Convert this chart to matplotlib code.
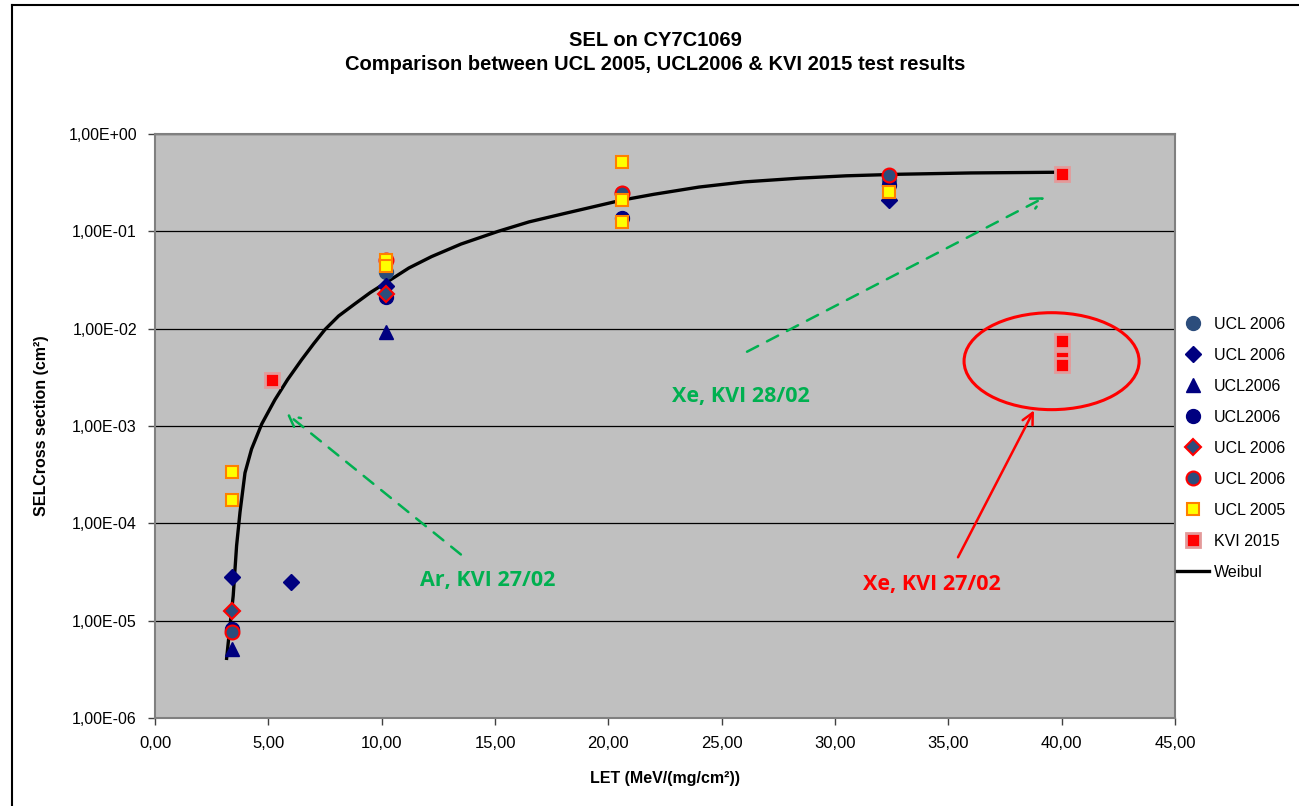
import matplotlib
matplotlib.use("Agg")
import matplotlib.pyplot as plt
from matplotlib.patches import Ellipse
from matplotlib.lines import Line2D

plt.rcParams['font.family'] = ['Liberation Sans', 'DejaVu Sans']

# ---- data (LET in MeV/(mg/cm2), cross-section in cm2) ----
s1_let = [3.4, 10.2, 20.6, 32.4]
s1_sig = [8.0e-6, 3.86e-2, 0.25, 0.34]

s2_let = [3.4, 6.0, 10.2, 32.4]
s2_sig = [2.8e-5, 2.5e-5, 2.75e-2, 0.21]

s3_let = [3.4, 10.2]
s3_sig = [5.1e-6, 9.2e-3]

s4_let = [3.4, 10.2, 20.6, 32.4]
s4_sig = [8.3e-6, 2.1e-2, 0.137, 0.30]

s5_let = [3.4, 10.2]
s5_sig = [1.26e-5, 2.26e-2]

s6_let = [3.4, 10.2, 20.6, 32.4]
s6_sig = [7.6e-6, 5.08e-2, 0.245, 0.38]

ucl2005_let = [3.4, 3.4, 10.2, 10.2, 20.6, 20.6, 20.6, 32.4]
ucl2005_sig = [3.4e-4, 1.74e-4, 5.08e-2, 4.4e-2, 0.52, 0.21, 0.126, 0.255]

kvi_let = [5.15, 40.0, 40.0, 40.0, 40.0]
kvi_sig = [3.0e-3, 0.39, 7.5e-3, 5.0e-3, 4.2e-3]

weibull_let = [3.16, 3.30, 3.45, 3.60, 3.75, 3.97, 4.26, 4.71, 5.29, 5.85, 6.47,
               7.0, 7.50, 8.1, 8.82, 9.5, 10.22, 11.2, 12.2, 13.5, 15.14,
               16.5, 18.09, 20.59, 22.0, 24.0, 26.0, 28.45, 30.5, 32.86, 36.0, 40.0]
weibull_sig = [4.1e-6, 8.5e-6, 1.8e-5, 5.9e-5, 1.3e-4, 3.3e-4, 5.8e-4, 1.05e-3,
               1.86e-3, 3.0e-3, 4.8e-3, 7.0e-3, 9.8e-3, 1.35e-2, 1.8e-2, 2.35e-2,
               3.0e-2, 4.2e-2, 5.5e-2, 7.4e-2, 0.10, 0.125, 0.153, 0.209, 0.240,
               0.285, 0.322, 0.352, 0.372, 0.386, 0.398, 0.405]

x_ticks = [0, 5, 10, 15, 20, 25, 30, 35, 40, 45]
x_tick_labels = ["0,00", "5,00", "10,00", "15,00", "20,00", "25,00", "30,00", "35,00", "40,00", "45,00"]
y_ticks = [1e0, 1e-1, 1e-2, 1e-3, 1e-4, 1e-5, 1e-6]
y_tick_labels = ["1,00E+00", "1,00E-01", "1,00E-02", "1,00E-03", "1,00E-04", "1,00E-05", "1,00E-06"]

# ---- figure ----
W, H = 1299, 806
fig = plt.figure(figsize=(W / 100, H / 100), dpi=100)
ax = fig.add_axes([155 / W, (H - 718) / H, (1175 - 155) / W, (718 - 134) / H])
ax.set_facecolor('#C0C0C0')

ax.set_yscale('log')
ax.set_xlim(0, 45)
ax.set_ylim(1e-6, 1e0)

ax.yaxis.grid(True, which='major', color='black', linewidth=0.9)
ax.set_axisbelow(True)

steel = '#2C4D7C'
navy = '#000080'

ax.plot(weibull_let, weibull_sig, color='black', lw=2.4, zorder=2,
        solid_joinstyle='round', label='_nolegend_')

ms = 10
ax.plot(s1_let, s1_sig, 'o', ms=ms, mfc=steel, mec=steel, mew=1, ls='none', zorder=3, label='UCL 2006')
ax.plot(s2_let, s2_sig, 'D', ms=8.5, mfc=navy, mec=navy, mew=1, ls='none', zorder=3, label='UCL 2006')
ax.plot(s3_let, s3_sig, '^', ms=10, mfc=navy, mec=navy, mew=1, ls='none', zorder=3, label='UCL2006')
ax.plot(s4_let, s4_sig, 'o', ms=ms, mfc=navy, mec=navy, mew=1, ls='none', zorder=3, label='UCL2006')
ax.plot(s5_let, s5_sig, 'D', ms=8.5, mfc=steel, mec='#FF0000', mew=1.5, ls='none', zorder=3, label='UCL 2006')
ax.plot(s6_let, s6_sig, 'o', ms=ms, mfc=steel, mec='#FF0000', mew=1.5, ls='none', zorder=3, label='UCL 2006')
ax.plot(ucl2005_let, ucl2005_sig, 's', ms=9, mfc='#FFFF00', mec='#FF7F00', mew=1.5, ls='none', zorder=4, label='UCL 2005')
ax.plot(kvi_let, kvi_sig, 's', ms=10, mfc='#FF0000', mec='#E39A9A', mew=2, ls='none', zorder=5, label='KVI 2015')

ax.set_xticks(x_ticks)
ax.set_xticklabels(x_tick_labels, fontsize=12)
ax.set_yticks(y_ticks)
ax.set_yticklabels(y_tick_labels, fontsize=11.5)
ax.yaxis.set_minor_locator(matplotlib.ticker.NullLocator())
ax.tick_params(axis='both', direction='out', length=5, width=1, color='#404040')
ax.tick_params(axis='x', pad=8)
ax.tick_params(axis='y', pad=8)

for side in ['top', 'right', 'bottom', 'left']:
    ax.spines[side].set_color('#808080')
    ax.spines[side].set_linewidth(1.5)

ax.set_xlabel('LET (MeV/(mg/cm²))', fontsize=11.5, fontweight='bold', labelpad=14)
ax.set_ylabel('SELCross section (cm²)', fontsize=11.5, fontweight='bold', labelpad=14)

fig.text(655 / W, 1 - 40 / H, 'SEL on CY7C1069', ha='center', va='center',
         fontsize=14.5, fontweight='bold')
fig.text(655 / W, 1 - 65 / H, 'Comparison between UCL 2005, UCL2006 & KVI 2015 test results',
         ha='center', va='center', fontsize=14.5, fontweight='bold')

# legend
handles, labels = ax.get_legend_handles_labels()
handles.append(Line2D([], [], color='black', lw=2.4))
labels.append('Weibul')
leg = ax.legend(handles, labels, loc='center left', bbox_to_anchor=(0.996, 0.462),
                frameon=False, fontsize=11.5, handlelength=2.0, handletextpad=0.3,
                labelspacing=1.0, borderaxespad=0)

# annotations
green = '#00B050'
ax.annotate('', xy=(0.127, 0.524), xytext=(0.302, 0.277), xycoords='axes fraction',
            textcoords='axes fraction',
            arrowprops=dict(arrowstyle='->', color=green, lw=1.8, ls=(0, (5, 4)),
                            mutation_scale=20))
ax.text(0.326, 0.236, 'Ar, KVI 27/02', transform=ax.transAxes, ha='center', va='center',
        color=green, fontsize=15.5, fontweight='bold', family=['Open Sans', 'DejaVu Sans'])

ax.annotate('', xy=(0.875, 0.894), xytext=(0.578, 0.625), xycoords='axes fraction',
            textcoords='axes fraction',
            arrowprops=dict(arrowstyle='->', color=green, lw=1.8, ls=(0, (5, 4)),
                            mutation_scale=20))
ax.text(0.574, 0.550, 'Xe, KVI 28/02', transform=ax.transAxes, ha='center', va='center',
        color=green, fontsize=15.5, fontweight='bold', family=['Open Sans', 'DejaVu Sans'])

ell = Ellipse((0.879, 0.611), 0.1716, 0.166, transform=ax.transAxes, fill=False,
              edgecolor='#FF0000', lw=2.2, zorder=6)
ax.add_patch(ell)
ax.annotate('', xy=(0.863, 0.531), xytext=(0.786, 0.271), xycoords='axes fraction',
            textcoords='axes fraction',
            arrowprops=dict(arrowstyle='->', color='#FF0000', lw=1.8, mutation_scale=20))
ax.text(0.762, 0.228, 'Xe, KVI 27/02', transform=ax.transAxes, ha='center', va='center',
        color='#FF0000', fontsize=15.5, fontweight='bold', family=['Open Sans', 'DejaVu Sans'])

# outer chart border
fig.add_artist(Line2D([12 / W, 1], [1 - 5 / H, 1 - 5 / H], transform=fig.transFigure,
                      color='black', lw=1.5))
fig.add_artist(Line2D([12 / W, 12 / W], [0, 1 - 5 / H], transform=fig.transFigure,
                      color='black', lw=1.5))

fig.savefig('out.png', dpi=100)
